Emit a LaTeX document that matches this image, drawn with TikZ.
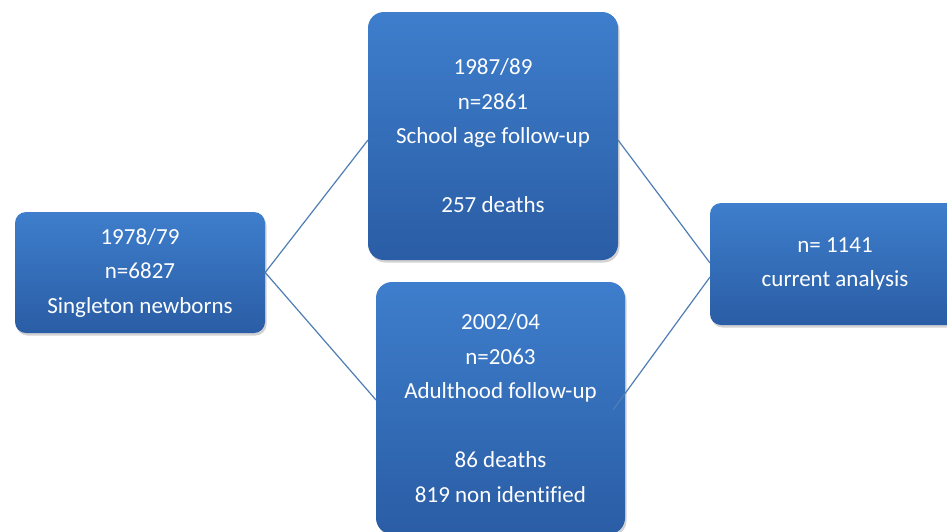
\documentclass[tikz,border=0pt]{standalone}
\usepackage{fontspec}
\setmainfont{Carlito}[Ligatures=NoCommon]
\usetikzlibrary{shadows}
\definecolor{boxtop}{HTML}{3E7ECC}
\definecolor{boxbot}{HTML}{2A5DA5}
\definecolor{linkcol}{HTML}{4F7DB5}
\tikzset{
  flowbox/.style={rectangle, rounded corners=#1, top color=boxtop, bottom color=boxbot,
    draw=none, text=white, align=center, inner sep=0pt,
    font=\fontsize{23}{34.5}\selectfont,
    drop shadow={opacity=0.35, shadow xshift=1.5pt, shadow yshift=-2.5pt}},
  flowbox/.default=14pt,
  link/.style={draw=linkcol, line width=1.2pt}
}
\begin{document}
\begin{tikzpicture}[x=1pt,y=-1pt]
\useasboundingbox (0,0) rectangle (947,531);
\clip (0,0) rectangle (947,531);
\fill[white] (0,0) rectangle (947,531);
% boxes
\node[flowbox=11pt, minimum width=250pt, minimum height=121pt] (birth) at (140,272.5)
  {1978/79\\n=6827\\Singleton newborns};
\node[flowbox=16pt, minimum width=250pt, minimum height=248pt] (school) at (493,136)
  {1987/89\\n=2861\\School age follow-up\\[34.5pt]257 deaths};
\node[flowbox=16pt, minimum width=249pt, minimum height=252pt] (adult) at (500.5,408)
  {2002/04\\n=2063\\Adulthood follow-up\\[34.5pt]86 deaths\\819 non identified};
\node[flowbox=11pt, minimum width=250pt, minimum height=122pt] (current) at (835,264)
  {n= 1141\\current analysis};
% connector ends
\coordinate (bR) at (birth.east);
\coordinate (sL) at (368,140);
\coordinate (aL) at (376,400);
\coordinate (sR) at (618,140);
\coordinate (aR) at (613,410);
\coordinate (cT) at (710,263);
\coordinate (cB) at (710,277);
\draw[link] (sL) -- (bR) -- (aL);
\draw[link] (sR) -- (cT);
\draw[link] (aR) -- (cB);
\end{tikzpicture}
\end{document}
